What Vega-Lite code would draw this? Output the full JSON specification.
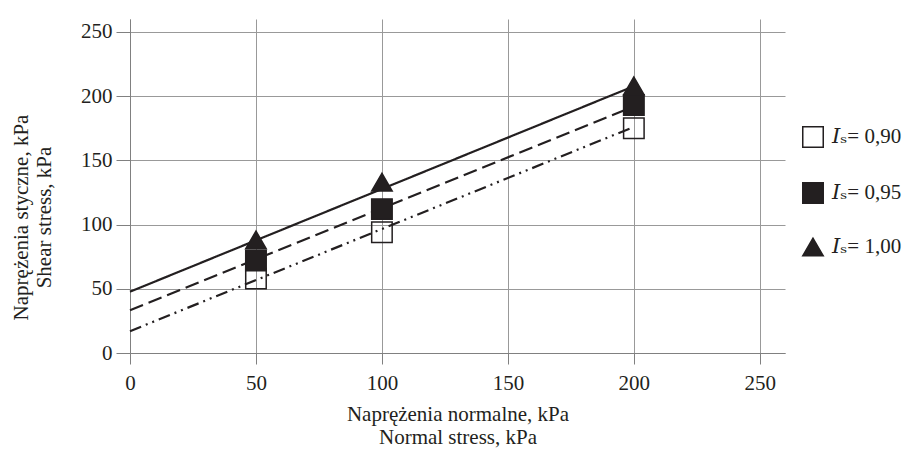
{
  "$schema": "https://vega.github.io/schema/vega-lite/v6.json",
  "width": 655,
  "height": 334,
  "autosize": "none",
  "padding": {"left": 130, "top": 19, "right": 122, "bottom": 102},
  "background": "white",
  "config": {
    "view": {"stroke": null},
    "font": "Liberation Serif",
    "axis": {
      "labelFont": "Liberation Serif",
      "titleFont": "Liberation Serif",
      "labelFontSize": 21,
      "titleFontSize": 21,
      "titleFontWeight": "normal",
      "labelColor": "#231f20",
      "titleColor": "#231f20",
      "domainColor": "#808080",
      "tickColor": "#808080",
      "gridColor": "#999999",
      "gridOpacity": 1,
      "gridWidth": 1,
      "domainWidth": 1,
      "tickWidth": 1,
      "titleLineHeight": 23
    },
    "legend": {
      "orient": "none",
      "legendX": 672,
      "legendY": 107,
      "padding": 0,
      "labelFont": "Liberation Serif, DejaVu Serif",
      "labelFontSize": 21,
      "labelColor": "#231f20",
      "symbolSize": 420,
      "symbolStrokeWidth": 1.5,
      "rowPadding": 28,
      "labelOffset": 8
    }
  },
  "datasets": {
    "points": [
      {"series": "𝐼ₛ= 0,90", "x": 50, "y": 58},
      {"series": "𝐼ₛ= 0,90", "x": 100, "y": 94},
      {"series": "𝐼ₛ= 0,90", "x": 200, "y": 175},
      {"series": "𝐼ₛ= 0,95", "x": 50, "y": 72},
      {"series": "𝐼ₛ= 0,95", "x": 100, "y": 112},
      {"series": "𝐼ₛ= 0,95", "x": 200, "y": 193},
      {"series": "𝐼ₛ= 1,00", "x": 50, "y": 88},
      {"series": "𝐼ₛ= 1,00", "x": 100, "y": 133},
      {"series": "𝐼ₛ= 1,00", "x": 200, "y": 208}
    ],
    "lines": [
      {"fit": "1.00", "x": 0, "y": 47.7},
      {"fit": "1.00", "x": 200, "y": 207.7},
      {"fit": "0.95", "x": 0, "y": 33.3},
      {"fit": "0.95", "x": 200, "y": 192},
      {"fit": "0.90", "x": 0, "y": 17},
      {"fit": "0.90", "x": 200, "y": 176}
    ]
  },
  "layer": [
    {
      "data": {"name": "lines"},
      "mark": {"type": "line", "strokeWidth": 2.2, "color": "#231f20"},
      "encoding": {
        "x": {
          "field": "x", "type": "quantitative",
          "scale": {"domain": [0, 250]},
          "axis": {
            "values": [0, 50, 100, 150, 200, 250],
            "title": ["Naprężenia normalne, kPa", "Normal stress, kPa"],
            "tickSize": 11,
            "labelPadding": 8,
            "titlePadding": 10,
            "labelFlush": false
          }
        },
        "y": {
          "field": "y", "type": "quantitative",
          "scale": {"domain": [0, 250]},
          "axis": {
            "values": [0, 50, 100, 150, 200, 250],
            "title": ["Naprężenia styczne, kPa", "Shear stress, kPa"],
            "tickSize": 14,
            "labelPadding": 4,
            "titlePadding": 26,
            "titleY": 198
          }
        },
        "detail": {"field": "fit", "type": "nominal"},
        "strokeDash": {
          "field": "fit", "type": "nominal",
          "scale": {"domain": ["1.00", "0.95", "0.90"], "range": [[1, 0], [14, 6], [12, 5, 2, 5, 2, 5]]},
          "legend": null
        }
      }
    },
    {
      "data": {"name": "points"},
      "mark": {"type": "point", "size": 420, "opacity": 1, "strokeWidth": 1.5},
      "encoding": {
        "x": {"field": "x", "type": "quantitative"},
        "y": {"field": "y", "type": "quantitative"},
        "fill": {
          "field": "series", "type": "nominal",
          "scale": {"domain": ["𝐼ₛ= 0,90", "𝐼ₛ= 0,95", "𝐼ₛ= 1,00"], "range": ["transparent", "#231f20", "#231f20"]},
          "legend": {"title": null}
        },
        "stroke": {
          "field": "series", "type": "nominal",
          "scale": {"domain": ["𝐼ₛ= 0,90", "𝐼ₛ= 0,95", "𝐼ₛ= 1,00"], "range": ["#231f20", "#231f20", "#231f20"]},
          "legend": {"title": null}
        },
        "shape": {
          "field": "series", "type": "nominal",
          "scale": {"domain": ["𝐼ₛ= 0,90", "𝐼ₛ= 0,95", "𝐼ₛ= 1,00"], "range": ["square", "square", "triangle-up"]},
          "legend": {"title": null}
        }
      }
    }
  ]
}
